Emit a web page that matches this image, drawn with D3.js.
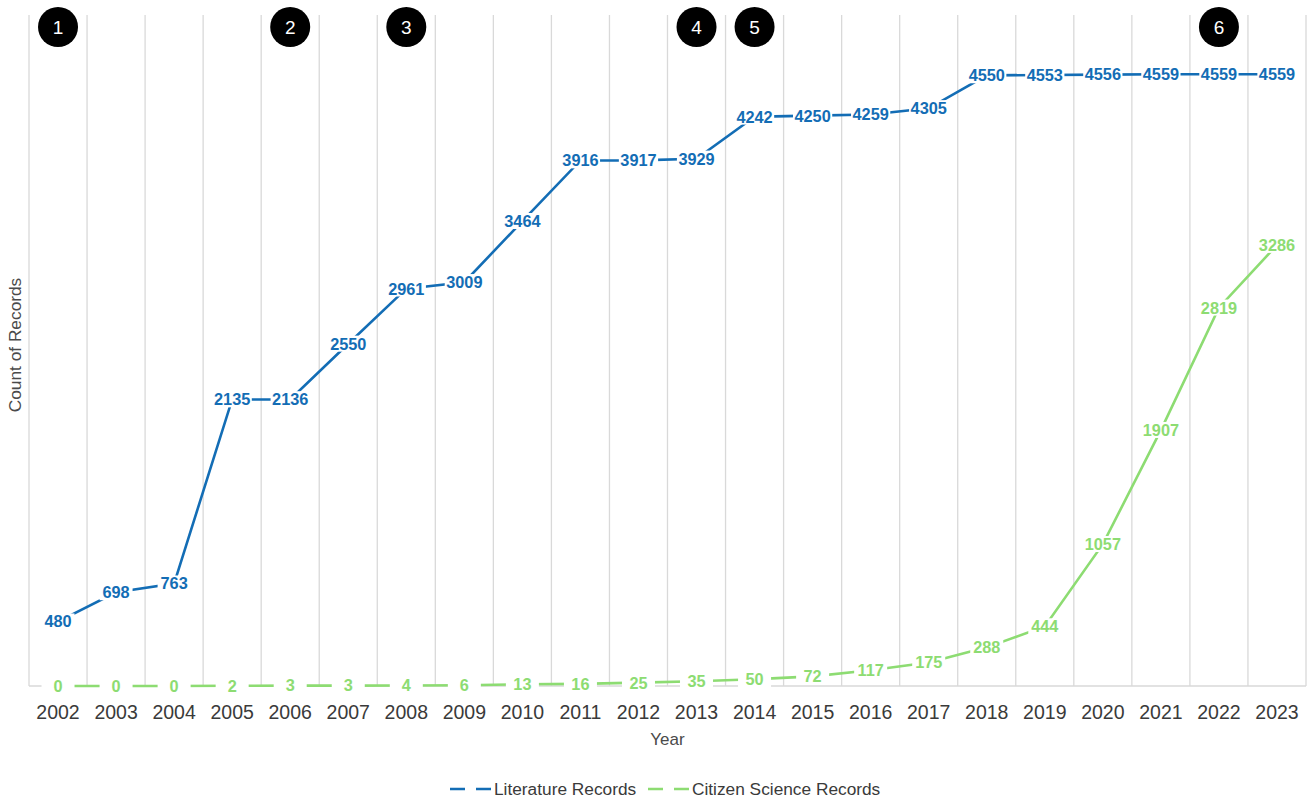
<!DOCTYPE html>
<html>
<head>
<meta charset="utf-8">
<script src="https://cdn.jsdelivr.net/npm/d3@7"></script>
<style>
  body { margin: 0; background: #fff; }
  svg { font-family: "Liberation Sans", Arial, sans-serif; }
</style>
</head>
<body>
<div id="chart"></div>
<script>
var years = ['2002', '2003', '2004', '2005', '2006', '2007', '2008', '2009', '2010', '2011', '2012',
             '2013', '2014', '2015', '2016', '2017', '2018', '2019', '2020', '2021', '2022', '2023'];
var literatureRecords = [480, 698, 763, 2135, 2136, 2550, 2961, 3009, 3464, 3916, 3917,
                         3929, 4242, 4250, 4259, 4305, 4550, 4553, 4556, 4559, 4559, 4559];
var citizenRecords = [0, 0, 0, 2, 3, 3, 4, 6, 13, 16, 25,
                      35, 50, 72, 117, 175, 288, 444, 1057, 1907, 2819, 3286];
var markerYears = ['2002', '2006', '2008', '2013', '2014', '2022'];
var markerLabels = ['1', '2', '3', '4', '5', '6'];

var seriesNames = ['Literature Records', 'Citizen Science Records'];
var seriesColors = ['#136db5', '#8ddc72'];

var width = 1314;
var height = 801;
var margin = {top: 15, right: 8, bottom: 115, left: 29};
var drawWidth = width - margin.left - margin.right;
var drawHeight = height - margin.top - margin.bottom;

var svg = d3.select('#chart')
  .append('svg')
    .attr('width', width)
    .attr('height', height);

var x = d3.scaleBand()
  .domain(years)
  .range([0, drawWidth]);

var y = d3.scaleLinear()
  .domain([0, 5000])
  .range([drawHeight, 0]);

var g = svg.append('g')
  .attr('transform', 'translate(' + margin.left + ',' + margin.top + ')');

// Vertical grid lines at band edges
var edges = years.map(function(d) { return x(d); }).concat([drawWidth]);
g.selectAll('line.grid')
  .data(edges)
  .enter()
  .append('line')
    .attr('class', 'grid')
    .attr('x1', function(d) { return d; })
    .attr('x2', function(d) { return d; })
    .attr('y1', 0)
    .attr('y2', drawHeight)
    .attr('stroke', '#d9d9d9')
    .attr('stroke-width', 1.3);

// Baseline
g.append('line')
  .attr('x1', 0)
  .attr('x2', drawWidth)
  .attr('y1', drawHeight)
  .attr('y2', drawHeight)
  .attr('stroke', '#d9d9d9')
  .attr('stroke-width', 1.3);

// X axis
var xAxis = d3.axisBottom(x).tickSize(0).tickPadding(19);
var xAxisG = g.append('g')
  .attr('transform', 'translate(0,' + drawHeight + ')')
  .call(xAxis);
xAxisG.select('.domain').remove();
xAxisG.selectAll('text')
  .attr('font-size', 19.5)
  .attr('fill', '#3a3a3a')
  .attr('font-family', '"Liberation Sans", Arial, sans-serif');

// Axis titles
svg.append('text')
  .attr('x', margin.left + drawWidth / 2)
  .attr('y', 745)
  .attr('text-anchor', 'middle')
  .attr('font-size', 17)
  .attr('fill', '#4a4a4a')
  .text('Year');

svg.append('text')
  .attr('transform', 'translate(21,' + 345 + ') rotate(-90)')
  .attr('text-anchor', 'middle')
  .attr('font-size', 17.3)
  .attr('fill', '#4a4a4a')
  .text('Count of Records');

// Series
var series = [literatureRecords, citizenRecords];
var cx = function(d, i) { return x(years[i]) + x.bandwidth() / 2; };

var line = d3.line()
  .x(function(d, i) { return cx(d, i); })
  .y(function(d) { return y(d); });

series.forEach(function(values, s) {
  g.append('path')
    .datum(values)
    .attr('fill', 'none')
    .attr('stroke', seriesColors[s])
    .attr('stroke-width', 2.6)
    .attr('d', line);
});

// Data labels with white boxes that cut the lines
series.forEach(function(values, s) {
  var labels = g.append('g');
  values.forEach(function(v, i) {
    var lg = labels.append('g')
      .attr('transform', 'translate(' + cx(v, i) + ',' + y(v) + ')');
    var rect = lg.append('rect').attr('fill', '#fff');
    var t = lg.append('text')
      .attr('text-anchor', 'middle')
      .attr('dy', '0.36em')
      .attr('font-size', 16.3)
      .attr('font-weight', 'bold')
      .attr('fill', seriesColors[s])
      .text(v);
    var bb = t.node().getBBox();
    var w = Math.max(bb.width + 3, 33);
    rect
      .attr('x', -w / 2)
      .attr('y', bb.y + 1)
      .attr('width', w)
      .attr('height', bb.height - 2);
  });
});

// Numbered event markers
var markers = g.selectAll('g.marker')
  .data(markerYears)
  .enter()
  .append('g')
    .attr('class', 'marker')
    .attr('transform', function(d) {
      return 'translate(' + (x(d) + x.bandwidth() / 2) + ',' + (27 - margin.top) + ')';
    });
markers.append('circle')
  .attr('r', 20)
  .attr('fill', '#000');
markers.append('text')
  .attr('text-anchor', 'middle')
  .attr('dy', '0.36em')
  .attr('font-size', 19)
  .attr('fill', '#fff')
  .text(function(d, i) { return markerLabels[i]; });

// Legend
var legendX = [450, 648];
seriesNames.forEach(function(name, s) {
  var lg = svg.append('g')
    .attr('transform', 'translate(' + legendX[s] + ',789)');
  lg.append('line')
    .attr('x1', 0)
    .attr('x2', 41)
    .attr('y1', 0)
    .attr('y2', 0)
    .attr('stroke', seriesColors[s])
    .attr('stroke-width', 2.6)
    .attr('stroke-dasharray', '15,11');
  lg.append('text')
    .attr('x', 44)
    .attr('dy', '0.36em')
    .attr('font-size', 17.3)
    .attr('fill', '#3a3a3a')
    .text(name);
});
</script>
</body>
</html>
